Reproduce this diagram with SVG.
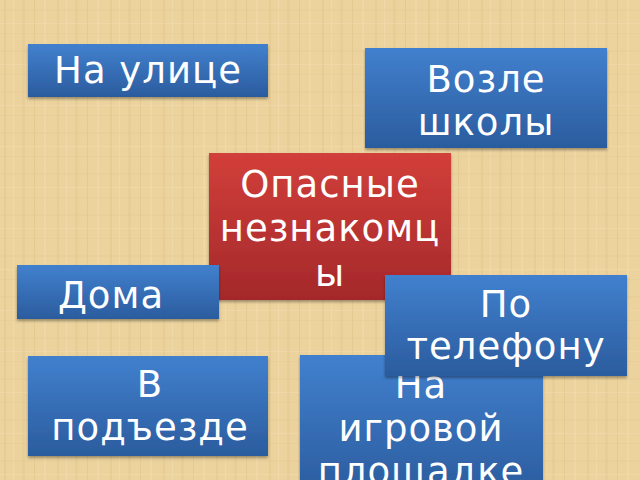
<svg xmlns="http://www.w3.org/2000/svg" width="640" height="480" viewBox="0 0 640 480">
<defs>
<linearGradient id="blue" x1="0" y1="0" x2="0" y2="1">
<stop offset="0" stop-color="#4180CE"/>
<stop offset="1" stop-color="#2B5C9E"/>
</linearGradient>
<linearGradient id="red" x1="0" y1="0" x2="0" y2="1">
<stop offset="0" stop-color="#D23F3A"/>
<stop offset="1" stop-color="#A4282A"/>
</linearGradient>
<pattern id="weave" width="53" height="41" patternUnits="userSpaceOnUse">
<rect width="53" height="41" fill="#ECD39E"/>
<rect x="4" y="0" width="2" height="41" fill="#DCBF86" opacity="0.35"/>
<rect x="13" y="0" width="1" height="41" fill="#F4E0B4" opacity="0.5"/>
<rect x="22" y="0" width="3" height="41" fill="#DDC28A" opacity="0.3"/>
<rect x="34" y="0" width="1" height="41" fill="#D6B87E" opacity="0.35"/>
<rect x="44" y="0" width="2" height="41" fill="#F2DDAE" opacity="0.5"/>
<rect x="0" y="9" width="53" height="2" fill="#DFC48C" opacity="0.25"/>
<rect x="0" y="23" width="53" height="1" fill="#F3DFB2" opacity="0.45"/>
<rect x="0" y="33" width="53" height="1" fill="#DCC088" opacity="0.25"/>
</pattern>
<filter id="sh" x="-5%" y="-5%" width="110%" height="120%">
<feDropShadow dx="0" dy="2" stdDeviation="1.5" flood-color="#000" flood-opacity="0.35"/>
</filter>
</defs>
<style>
.b{fill:url(#blue);filter:url(#sh)}
.r{fill:url(#red);filter:url(#sh)}
text{font-family:"DejaVu Sans","Noto Sans",sans-serif;font-size:37px;fill:#FFFFFF;text-anchor:middle;letter-spacing:1px}
</style>
<rect width="640" height="480" fill="url(#weave)"/>
<g id="connectors"/>
<g id="node-ulitsa">
<rect class="b" x="28" y="44" width="240" height="53"/>
<text x="148" y="83">На улице</text>
</g>
<g id="node-shkola">
<rect class="b" x="365" y="48" width="242" height="100"/>
<text x="486" y="92">Возле</text>
<text x="486" y="135">школы</text>
</g>
<g id="node-center">
<rect class="r" x="209" y="153" width="242" height="147"/>
<text x="330" y="197">Опасные</text>
<text x="330" y="241">незнакомц</text>
<text x="330" y="286">ы</text>
</g>
<g id="node-doma">
<rect class="b" x="17" y="265" width="202" height="54"/>
<text x="111" y="308">Дома</text>
</g>
<g id="node-ploshchadka">
<rect class="b" x="300" y="355" width="243" height="140"/>
<text x="421" y="398">На</text>
<text x="421" y="441">игровой</text>
<text x="421" y="484">площадке</text>
</g>
<g id="node-telefon">
<rect class="b" x="385" y="275" width="242" height="101"/>
<text x="506" y="317">По</text>
<text x="506" y="359">телефону</text>
</g>
<g id="node-podezd">
<rect class="b" x="28" y="356" width="240" height="100"/>
<text x="150" y="397">В</text>
<text x="150" y="440">подъезде</text>
</g>
</svg>
